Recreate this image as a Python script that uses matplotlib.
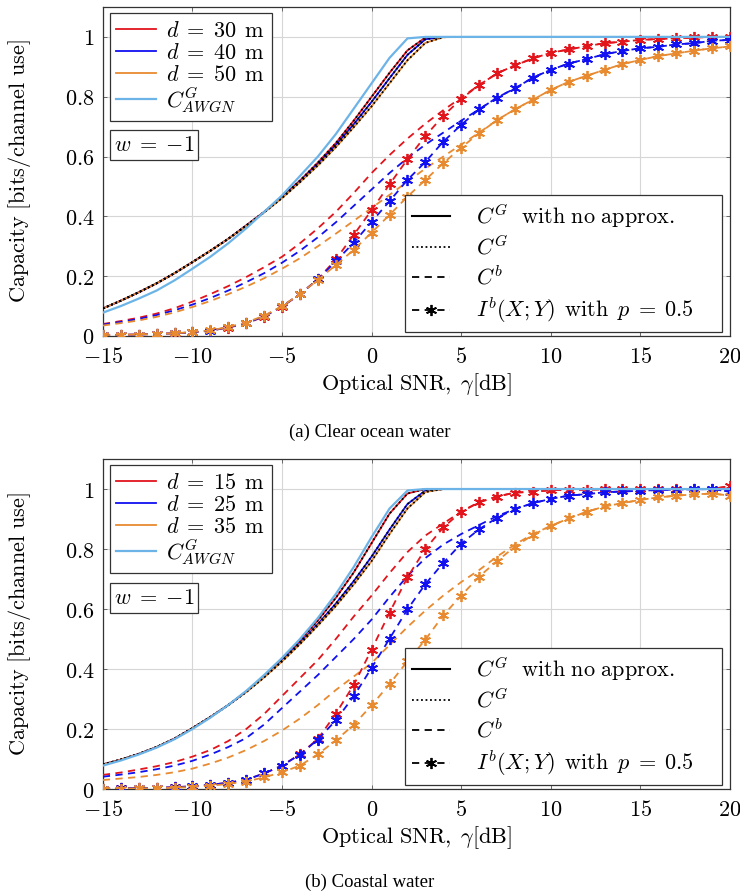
import matplotlib
matplotlib.use("Agg")
import matplotlib.pyplot as plt
from matplotlib.lines import Line2D
import numpy as np

plt.rcParams["mathtext.fontset"] = "cm"
plt.rcParams["font.family"] = ["DejaVu Serif"]

# SNR grid [dB]
snr = np.arange(-15, 21)

RED = "#e2141c"
BLUE = "#1010f0"
ORANGE = "#e88a30"
SKY = "#6cb4e8"

# ---- (a) clear ocean water ----
dist_a = [30, 40, 50]
awgn_a = [0.078, 0.100, 0.125, 0.152, 0.186, 0.225, 0.265, 0.310, 0.360, 0.415,
          0.470, 0.535, 0.600, 0.675, 0.760, 0.845, 0.930, 0.995, 1.0, 1.0,
          1.0, 1.0, 1.0, 1.0, 1.0, 1.0, 1.0, 1.0, 1.0, 1.0,
          1.0, 1.0, 1.0, 1.0, 1.0, 1.0]
cg_a = [
    [0.092, 0.118, 0.146, 0.176, 0.210, 0.247, 0.285, 0.325, 0.370, 0.415,
     0.465, 0.520, 0.580, 0.645, 0.720, 0.800, 0.880, 0.955, 0.998, 1.0,
     1.0, 1.0, 1.0, 1.0, 1.0, 1.0, 1.0, 1.0, 1.0, 1.0,
     1.0, 1.0, 1.0, 1.0, 1.0, 1.0],
    [0.092, 0.118, 0.146, 0.176, 0.210, 0.247, 0.285, 0.325, 0.369, 0.414,
     0.463, 0.517, 0.575, 0.638, 0.708, 0.783, 0.862, 0.940, 0.992, 1.0,
     1.0, 1.0, 1.0, 1.0, 1.0, 1.0, 1.0, 1.0, 1.0, 1.0,
     1.0, 1.0, 1.0, 1.0, 1.0, 1.0],
    [0.092, 0.118, 0.146, 0.176, 0.210, 0.247, 0.285, 0.325, 0.368, 0.413,
     0.461, 0.514, 0.570, 0.631, 0.698, 0.768, 0.845, 0.922, 0.980, 0.999,
     1.0, 1.0, 1.0, 1.0, 1.0, 1.0, 1.0, 1.0, 1.0, 1.0,
     1.0, 1.0, 1.0, 1.0, 1.0, 1.0],
]
cb_a = [
    [0.040, 0.050, 0.061, 0.075, 0.093, 0.115, 0.140, 0.167, 0.197, 0.230,
     0.265, 0.310, 0.360, 0.415, 0.478, 0.545, 0.605, 0.660, 0.710, 0.755,
     0.797, 0.839, 0.878, 0.905, 0.928, 0.947, 0.958, 0.969, 0.979, 0.984,
     0.990, 0.993, 0.995, 0.998, 1.0, 1.0],
    [0.038, 0.047, 0.057, 0.070, 0.086, 0.105, 0.127, 0.152, 0.180, 0.210,
     0.245, 0.285, 0.330, 0.380, 0.435, 0.490, 0.545, 0.595, 0.640, 0.680,
     0.720, 0.758, 0.797, 0.828, 0.864, 0.890, 0.911, 0.926, 0.942, 0.953,
     0.962, 0.967, 0.975, 0.979, 0.987, 0.990],
    [0.035, 0.043, 0.052, 0.064, 0.079, 0.097, 0.117, 0.140, 0.165, 0.193,
     0.225, 0.260, 0.300, 0.342, 0.385, 0.428, 0.472, 0.516, 0.560, 0.600,
     0.640, 0.680, 0.722, 0.758, 0.790, 0.823, 0.850, 0.870, 0.890, 0.909,
     0.923, 0.936, 0.945, 0.954, 0.962, 0.968],
]
ib_a = [
    [0.003, 0.004, 0.005, 0.007, 0.009, 0.012, 0.018, 0.028, 0.042, 0.065,
     0.098, 0.140, 0.190, 0.256, 0.338, 0.421, 0.507, 0.591, 0.669, 0.736,
     0.793, 0.839, 0.878, 0.905, 0.928, 0.947, 0.958, 0.969, 0.979, 0.984,
     0.990, 0.993, 0.995, 0.998, 1.0, 1.0],
    [0.003, 0.004, 0.005, 0.007, 0.009, 0.012, 0.018, 0.029, 0.043, 0.066,
     0.099, 0.140, 0.189, 0.250, 0.312, 0.382, 0.451, 0.522, 0.582, 0.650,
     0.706, 0.758, 0.797, 0.828, 0.864, 0.890, 0.911, 0.926, 0.942, 0.953,
     0.962, 0.967, 0.975, 0.979, 0.987, 0.990],
    [0.003, 0.004, 0.005, 0.007, 0.009, 0.013, 0.019, 0.030, 0.045, 0.068,
     0.100, 0.140, 0.188, 0.237, 0.288, 0.346, 0.405, 0.466, 0.522, 0.578,
     0.630, 0.678, 0.722, 0.758, 0.790, 0.823, 0.850, 0.870, 0.890, 0.909,
     0.923, 0.936, 0.945, 0.954, 0.962, 0.968],
]

# ---- (b) coastal water ----
dist_b = [15, 25, 35]
awgn_b = [0.078, 0.095, 0.115, 0.138, 0.166, 0.200, 0.238, 0.280, 0.327, 0.380,
          0.437, 0.500, 0.570, 0.650, 0.740, 0.840, 0.935, 0.995, 1.0, 1.0,
          1.0, 1.0, 1.0, 1.0, 1.0, 1.0, 1.0, 1.0, 1.0, 1.0,
          1.0, 1.0, 1.0, 1.0, 1.0, 1.0]
cg_b = [
    [0.082, 0.098, 0.117, 0.140, 0.168, 0.203, 0.240, 0.280, 0.325, 0.377,
     0.433, 0.495, 0.562, 0.637, 0.722, 0.820, 0.918, 0.985, 1.0, 1.0,
     1.0, 1.0, 1.0, 1.0, 1.0, 1.0, 1.0, 1.0, 1.0, 1.0,
     1.0, 1.0, 1.0, 1.0, 1.0, 1.0],
    [0.082, 0.098, 0.117, 0.140, 0.168, 0.203, 0.240, 0.280, 0.324, 0.374,
     0.428, 0.487, 0.550, 0.618, 0.693, 0.775, 0.865, 0.950, 0.995, 1.0,
     1.0, 1.0, 1.0, 1.0, 1.0, 1.0, 1.0, 1.0, 1.0, 1.0,
     1.0, 1.0, 1.0, 1.0, 1.0, 1.0],
    [0.082, 0.098, 0.117, 0.140, 0.168, 0.203, 0.240, 0.280, 0.323, 0.372,
     0.425, 0.483, 0.545, 0.610, 0.682, 0.760, 0.850, 0.935, 0.990, 1.0,
     1.0, 1.0, 1.0, 1.0, 1.0, 1.0, 1.0, 1.0, 1.0, 1.0,
     1.0, 1.0, 1.0, 1.0, 1.0, 1.0],
]
cb_b = [
    [0.047, 0.055, 0.065, 0.076, 0.090, 0.108, 0.130, 0.160, 0.200, 0.250,
     0.310, 0.370, 0.430, 0.500, 0.575, 0.645, 0.720, 0.790, 0.845, 0.885,
     0.925, 0.956, 0.975, 0.988, 0.991, 0.996, 0.997, 0.998, 0.999, 1.0,
     1.0, 1.0, 1.0, 1.0, 1.0, 1.010],
    [0.041, 0.048, 0.056, 0.066, 0.078, 0.094, 0.115, 0.140, 0.170, 0.215,
     0.270, 0.325, 0.380, 0.440, 0.500, 0.565, 0.640, 0.710, 0.770, 0.815,
     0.850, 0.880, 0.910, 0.933, 0.953, 0.967, 0.978, 0.983, 0.989, 0.992,
     0.994, 0.997, 0.998, 0.999, 1.0, 0.991],
    [0.030, 0.035, 0.040, 0.047, 0.056, 0.068, 0.085, 0.105, 0.130, 0.160,
     0.195, 0.235, 0.280, 0.330, 0.375, 0.420, 0.480, 0.540, 0.595, 0.645,
     0.690, 0.730, 0.775, 0.815, 0.850, 0.877, 0.902, 0.924, 0.942, 0.953,
     0.964, 0.972, 0.978, 0.982, 0.985, 0.978],
]
ib_b = [
    [0.001, 0.002, 0.003, 0.004, 0.006, 0.009, 0.014, 0.021, 0.031, 0.052,
     0.078, 0.116, 0.167, 0.251, 0.347, 0.465, 0.588, 0.706, 0.800, 0.872,
     0.924, 0.956, 0.975, 0.988, 0.991, 0.996, 0.997, 0.998, 0.999, 1.0,
     1.0, 1.0, 1.0, 1.0, 1.0, 1.010],
    [0.001, 0.002, 0.003, 0.004, 0.006, 0.009, 0.014, 0.021, 0.031, 0.052,
     0.078, 0.115, 0.165, 0.229, 0.309, 0.404, 0.501, 0.599, 0.683, 0.754,
     0.818, 0.866, 0.904, 0.933, 0.953, 0.967, 0.978, 0.983, 0.989, 0.992,
     0.994, 0.997, 0.998, 0.999, 1.0, 0.991],
    [0.001, 0.001, 0.002, 0.003, 0.004, 0.007, 0.011, 0.017, 0.025, 0.039,
     0.056, 0.078, 0.116, 0.162, 0.214, 0.279, 0.350, 0.426, 0.498, 0.579,
     0.645, 0.708, 0.760, 0.808, 0.847, 0.877, 0.902, 0.924, 0.942, 0.953,
     0.964, 0.972, 0.978, 0.982, 0.985, 0.978],
]

colors = [RED, BLUE, ORANGE]
xticks = [-15, -10, -5, 0, 5, 10, 15, 20]
yticks = [0, 0.2, 0.4, 0.6, 0.8, 1.0]
xticklabels = [r"$-15$", r"$-10$", r"$-5$", r"$0$", r"$5$", r"$10$", r"$15$", r"$20$"]
yticklabels = [r"$0$", r"$0.2$", r"$0.4$", r"$0.6$", r"$0.8$", r"$1$"]

FS = 16
DASH = (0, (4.0, 3.0))
DOTS = (0, (1, 1.5))
AST = (6, 2, 0)
EDGE = "#333333"


def draw_panel(ax, dists, awgn, cg, cb, ib):
    for c, b, i in zip(colors, cb, ib):
        ax.plot(snr, b, color=c, lw=1.3, linestyle=DASH, zorder=3)
        ax.plot(snr, i, color=c, lw=1.3, linestyle=DASH, marker=AST,
                markersize=8, markeredgewidth=1.3, zorder=4)
    dist_handles = []
    for c, d, g in zip(colors, dists, cg):
        h, = ax.plot(snr, g, color=c, lw=1.3, zorder=5,
                     label=rf"$d\;=\;{d}\;\,\mathrm{{m}}$")
        ax.plot(snr, g, color="black", lw=1.3, linestyle=DOTS, zorder=6)
        dist_handles.append(h)
    h, = ax.plot(snr, awgn, color=SKY, lw=1.6, zorder=7, label=r"$C^G_{AWGN}$")
    dist_handles.append(h)

    ax.set_xlim(-15, 20)
    ax.set_ylim(0, 1.1)
    ax.set_xticks(xticks)
    ax.set_xticklabels(xticklabels, fontsize=FS)
    ax.set_yticks(yticks)
    ax.set_yticklabels(yticklabels, fontsize=FS)
    ax.tick_params(direction="in", length=3, width=0.6, top=True, right=True,
                   color="#555555", pad=6)
    ax.tick_params(axis="x", pad=7.5)
    ax.grid(True, color="#d6d6d6", lw=0.8)
    ax.set_axisbelow(True)
    for s in ax.spines.values():
        s.set_color(EDGE)
        s.set_linewidth(0.9)

    ax.set_xlabel(r"$\mathrm{Optical\ SNR,}\ \gamma\mathrm{[dB]}$", fontsize=FS)
    ax.xaxis.set_label_coords(0.5, -0.108)
    ax.set_ylabel(r"$\mathrm{Capacity\ [bits/channel\ use]}$", fontsize=FS)
    ax.yaxis.set_label_coords(-0.112, 0.5)

    leg1 = ax.legend(handles=dist_handles, loc="upper left",
                     bbox_to_anchor=(0.011, 0.982), borderaxespad=0,
                     fontsize=FS, frameon=True, fancybox=False, framealpha=1,
                     edgecolor=EDGE, handlelength=1.8, handletextpad=0.45,
                     labelspacing=0.0, borderpad=0.3)
    leg1.get_frame().set_linewidth(0.9)
    ax.add_artist(leg1)

    style_handles = [
        Line2D([], [], color="black", lw=1.5),
        Line2D([], [], color="black", lw=1.3, linestyle=DOTS),
        Line2D([], [], color="black", lw=1.3, linestyle=DASH),
        Line2D([], [], color="black", lw=1.3, linestyle=DASH, marker=AST,
               markersize=8, markeredgewidth=1.3),
    ]
    style_labels = [r"$C^G\ \ \mathrm{with\ no\ approx.}$", r"$C^G$", r"$C^b$",
                    r"$I^b(X;Y)\ \,\mathrm{with}\ \,p\;=\;0.5$"]
    # legend frame stretched to a fixed box in the lower right corner
    leg2 = ax.legend(style_handles, style_labels, loc="lower left",
                     bbox_to_anchor=(0.482, 0.012, 0.506, 0.41), mode="expand",
                     borderaxespad=0,
                     fontsize=FS, frameon=True, fancybox=False, framealpha=1,
                     edgecolor=EDGE, handlelength=1.7, handletextpad=1.2,
                     labelspacing=0.28, borderpad=0.3)
    leg2.get_frame().set_linewidth(0.9)
    leg2.set_zorder(10)

    ax.text(0.017, 0.58, r"$w\;=\;{-1}$", transform=ax.transAxes, fontsize=FS,
            ha="left", va="center", zorder=10,
            bbox=dict(boxstyle="square,pad=0.18", facecolor="white",
                      edgecolor=EDGE, lw=0.9))


fig = plt.figure(figsize=(7.4, 8.96), dpi=100)
ax_a = fig.add_axes([0.139, 0.625, 0.8475, 0.3672])
ax_b = fig.add_axes([0.139, 0.1194, 0.8475, 0.3683])

draw_panel(ax_a, dist_a, awgn_a, cg_a, cb_a, ib_a)
draw_panel(ax_b, dist_b, awgn_b, cg_b, cb_b, ib_b)

fig.text(0.5, 1 - 432 / 896, "(a) Clear ocean water", ha="center", va="center",
         fontsize=13.5, family="Liberation Serif")
fig.text(0.5, 1 - 882 / 896, "(b) Coastal water", ha="center", va="center",
         fontsize=13.5, family="Liberation Serif")

fig.savefig("out.png", dpi=100, facecolor="white")
